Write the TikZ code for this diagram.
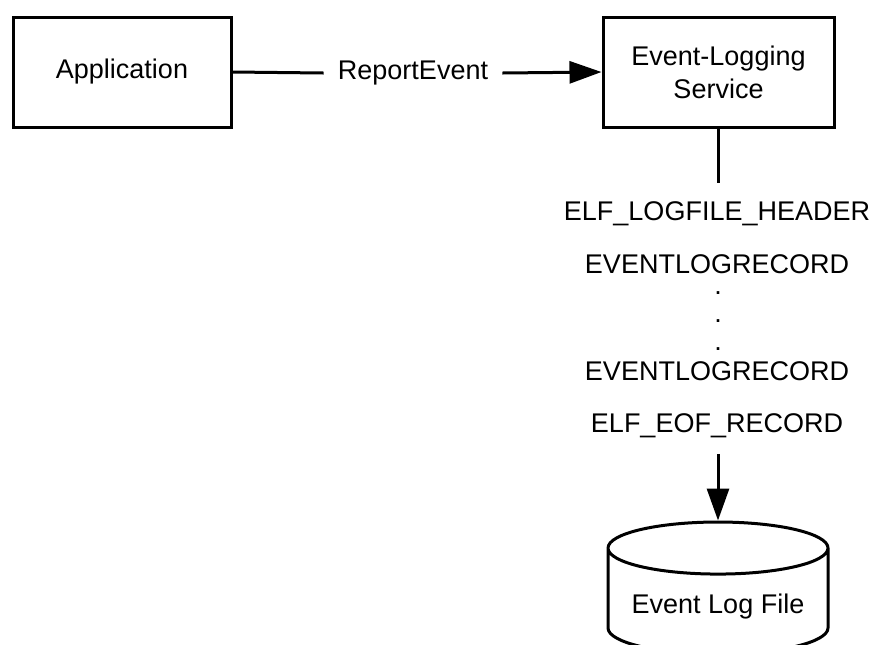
\documentclass[tikz,border=0pt]{standalone}
\usepackage{fontspec}
\setmainfont{Liberation Sans}
\usetikzlibrary{arrows.meta,shapes.geometric}
\tikzset{
  box/.style={draw=black,line width=1.5pt,minimum width=109pt,minimum height=55pt,
    align=center,font=\fontsize{13.5}{16.5}\selectfont},
  rec/.style={font=\fontsize{13.5}{16.5}\selectfont,inner sep=0pt},
  store/.style={cylinder,shape border rotate=90,draw=black,line width=1.5pt,
    aspect=0.28,minimum width=110pt,minimum height=66pt,
    font=\fontsize{13.5}{16.5}\selectfont},
  link/.style={black,line width=1.5pt},
  tip/.style={-{Triangle[length=16pt,width=11pt]}}
}
\begin{document}
\begin{tikzpicture}[x=0.5pt,y=-0.5pt]
\useasboundingbox (0,0) rectangle (872,644);
\node[box] (app) at (122,72) {Application};
\node[box,minimum width=115.5pt] (svc) at (718.5,72) {Event-Logging\\Service};
\node[rec,inner xsep=7pt] (rpt) at (413,73) {ReportEvent};
\node[rec,anchor=base] (hdr) at (717,220) {ELF\_LOGFILE\_HEADER};
\node[rec,anchor=base] (rec1) at (717,273) {EVENTLOGRECORD};
\node[rec] (dot1) at (718,293) {.};
\node[rec] (dot2) at (718,321) {.};
\node[rec] (dot3) at (718,349) {.};
\node[rec,anchor=base] (rec2) at (717,380) {EVENTLOGRECORD};
\node[rec,anchor=base] (eof) at (717,432) {ELF\_EOF\_RECORD};
\node[store,anchor=shape center] (log) at (718,588) {Event Log File};
\draw [link] (app.east) -- (rpt.west);
\draw [link,tip] (rpt.east) -- (svc.west);
\draw [link,shorten >=9pt] (svc.south) -- (svc.south |- hdr.north);
\draw [link,tip,shorten <=8pt] (eof.south -| log.north) -- (log.north);
\end{tikzpicture}
\end{document}
